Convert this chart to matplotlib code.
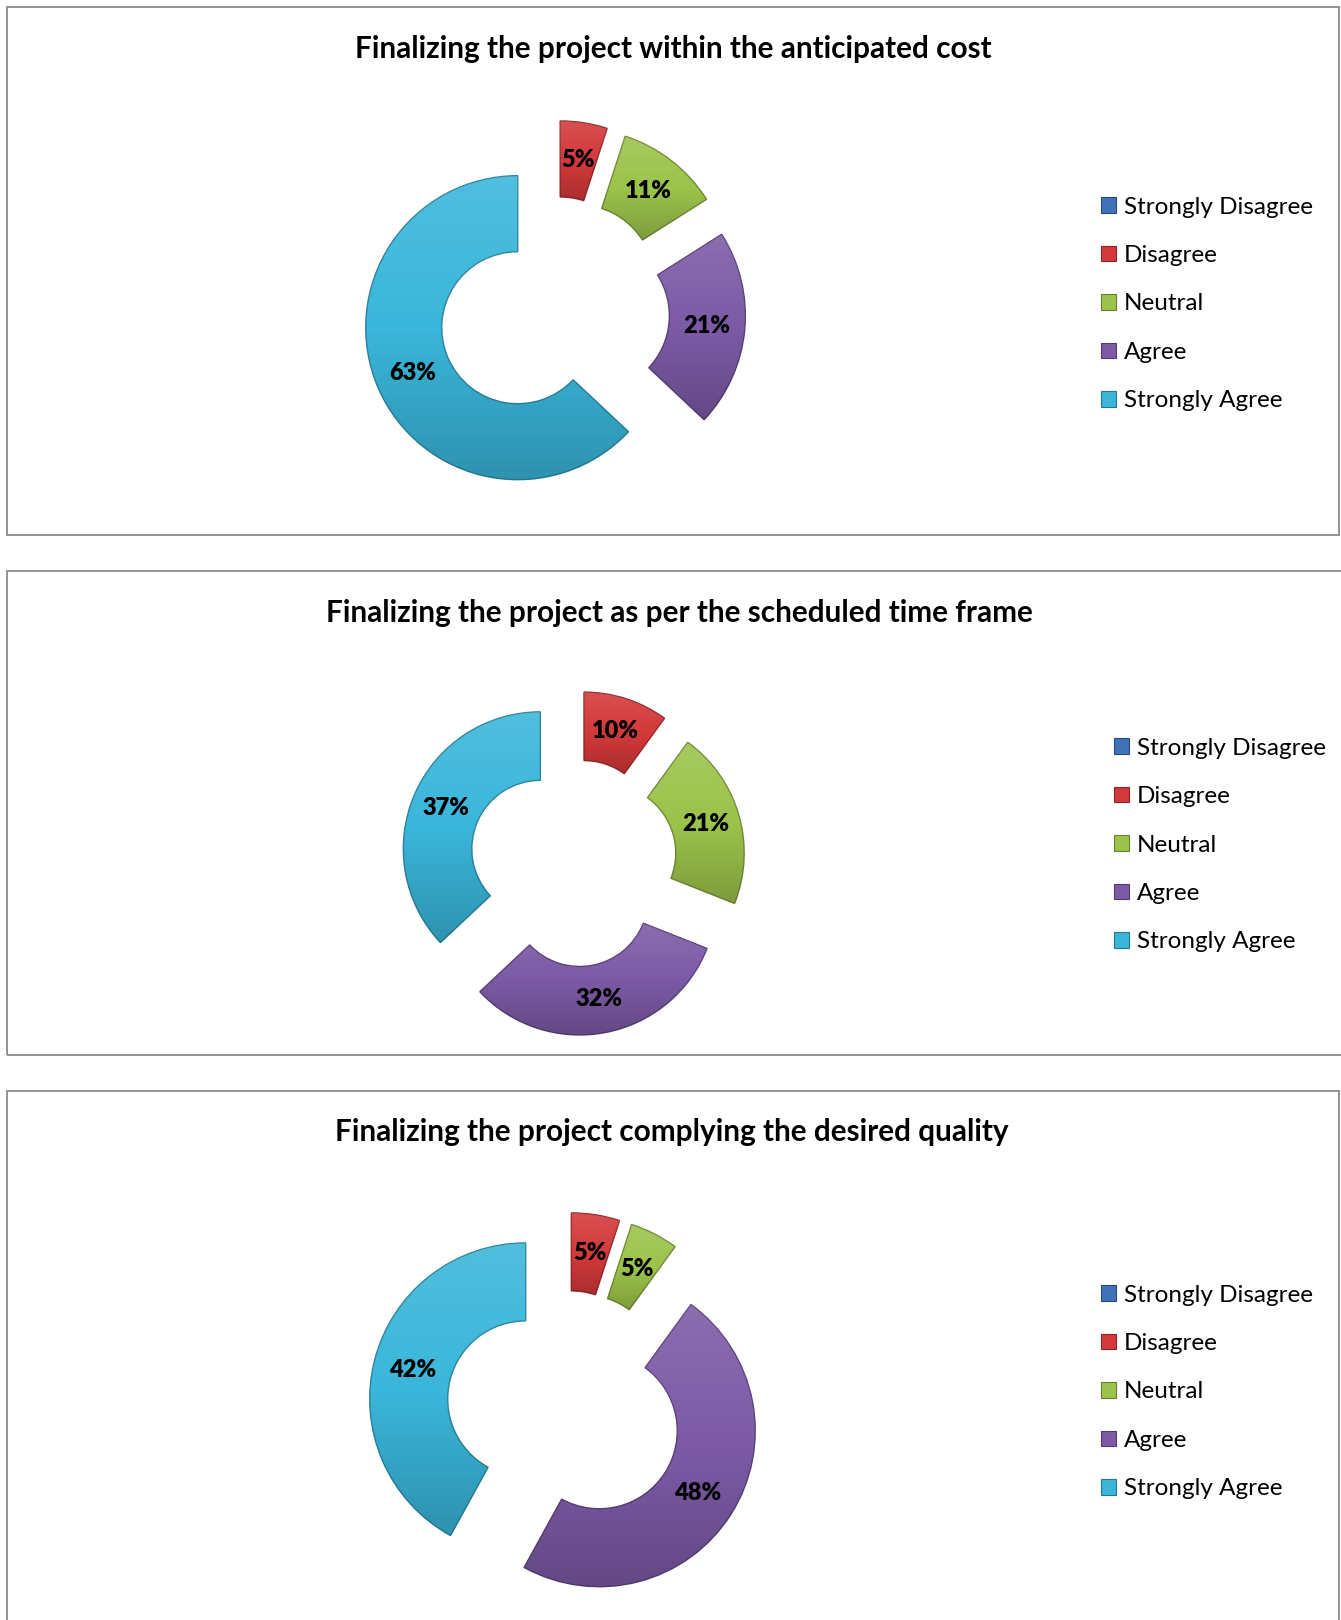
import numpy as np
import matplotlib
matplotlib.use("Agg")
import matplotlib.pyplot as plt
from matplotlib.patches import Rectangle, Patch
from matplotlib.colors import to_rgb

W, H, DPI = 1341, 1620, 100

categories = ["Strongly Disagree", "Disagree", "Neutral", "Agree", "Strongly Agree"]
titles = [
    "Finalizing the project within the anticipated cost",
    "Finalizing the project as per the scheduled time frame",
    "Finalizing the project complying the desired quality",
]
cost_pct = [0, 5, 11, 21, 63]
time_pct = [0, 10, 21, 32, 37]
quality_pct = [0, 5, 5, 48, 42]
colors = ["#3F72B9", "#D3393A", "#9CC34B", "#7C5AA6", "#3AB6DA"]

plt.rcParams["font.family"] = ["Lato", "DejaVu Sans"]
fig = plt.figure(figsize=(W / DPI, H / DPI), dpi=DPI)
fig.patch.set_facecolor("white")


def fx(px):
    return px / W


def fy(py):
    return 1 - py / H


def darker(c, f=0.7):
    r, g, b = to_rgb(c)
    return (r * f, g * f, b * f)


# vertical shading: light at the top, dark at the bottom
t = np.linspace(0, 1, 256)[:, None]
shade = np.zeros((256, 1, 4))
top = t < 0.5
shade[..., :3] = np.where(top[..., None], 1.0, 0.0)
shade[..., 3] = np.where(top, 0.12 * (1 - 2 * t), 0.2 * (2 * t - 1))

panels = [
    dict(values=cost_pct, title=titles[0], box=(7, 7, 1339, 535),
         title_xy=(673, 49), center=(554, 312), R=152, leg=(1101, 304)),
    dict(values=time_pct, title=titles[1], box=(7, 571, 1360, 1055),
         title_xy=(679, 613), center=(573, 863), R=137, leg=(1114, 845)),
    dict(values=quality_pct, title=titles[2], box=(7, 1091, 1339, 1680),
         title_xy=(672, 1132), center=(565, 1409), R=156, leg=(1101, 1392)),
]

LIM = 1.45
for p in panels:
    x0, y0, x1, y1 = p["box"]
    fig.add_artist(Rectangle((fx(x0), fy(y1)), fx(x1 - x0), (y1 - y0) / H,
                             transform=fig.transFigure, facecolor="none",
                             edgecolor="#8A8A8A", linewidth=1.3))
    fig.text(fx(p["title_xy"][0]), fy(p["title_xy"][1]), p["title"],
             ha="center", va="center", fontsize=21.4, fontweight="bold",
             color="black")

    cx, cy = p["center"]
    R = p["R"]
    half = LIM * R
    ax = fig.add_axes([fx(cx - half), fy(cy + half), 2 * half / W, 2 * half / H])
    wedges, texts, autotexts = ax.pie(
        p["values"], colors=colors, startangle=90, counterclock=False,
        radius=1.0, explode=[0.26] * len(p["values"]),
        wedgeprops=dict(width=0.5, linewidth=1.0),
        autopct=lambda v: f"{v:.0f}%" if v > 0.5 else "",
        pctdistance=0.75,
        textprops=dict(fontsize=17, fontweight="heavy", color="black"),
    )
    for w, v, c in zip(wedges, p["values"], colors):
        if v == 0:
            w.set_linewidth(0)
            continue
        w.set_edgecolor(darker(c, 0.72))
        ext = w.get_path().get_extents()
        im = ax.imshow(shade, extent=(ext.x0, ext.x1, ext.y0, ext.y1),
                       aspect="auto", zorder=w.get_zorder() + 0.1,
                       interpolation="bilinear")
        im.set_clip_path(w)
    for at in autotexts:
        at.set_zorder(5)
    ax.set_xlim(-LIM, LIM)
    ax.set_ylim(-LIM, LIM)
    ax.set_aspect("equal")
    ax.axis("off")

    handles = [Patch(facecolor=c, edgecolor=darker(c, 0.65), linewidth=0.8)
               for c in colors]
    fig.legend(handles, categories, loc="center left",
               bbox_to_anchor=(fx(p["leg"][0]), fy(p["leg"][1])),
               frameon=False, fontsize=17.5, borderpad=0, borderaxespad=0,
               handlelength=0.6, handleheight=0.6, handletextpad=0.35,
               labelspacing=1.13)

fig.savefig("out.png", dpi=DPI)
